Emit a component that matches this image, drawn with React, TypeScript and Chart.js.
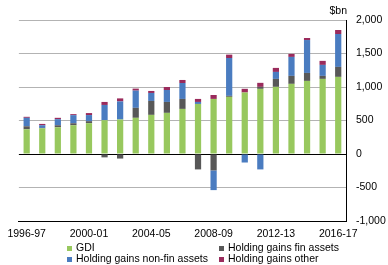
import React, { useEffect, useRef } from 'react';
import { Chart, registerables } from 'chart.js';

Chart.register(...registerables);

const categories = [
  '1996-97', '1997-98', '1998-99', '1999-00', '2000-01', '2001-02', '2002-03',
  '2003-04', '2004-05', '2005-06', '2006-07', '2007-08', '2008-09', '2009-10',
  '2010-11', '2011-12', '2012-13', '2013-14', '2014-15', '2015-16', '2016-17',
];

const gdi = [369, 384, 399, 429, 460, 505, 515, 540, 584, 614, 673, 747, 822, 853, 918, 972, 1002, 1047, 1091, 1121, 1151];
const finGains = [45, 5, 30, 30, 30, -50, -68, 149, 208, 163, 149, -230, -245, 15, 0, 30, 119, 119, 119, 45, 149];
const nonFinGains = [126, 40, 91, 121, 91, 227, 270, 257, 119, 178, 238, 30, -294, 565, -127, -230, 104, 283, 491, 164, 491];
const otherGains = [15, 20, 20, 15, 30, 45, 45, 30, 30, 45, 45, 45, 59, 50, 55, 60, 60, 45, 30, 60, 60];

const seriesNames = ['GDI', 'Holding gains fin assets', 'Holding gains non-fin assets', 'Holding gains other'];
const seriesColors = ['#98C85E', '#585858', '#4A7CC0', '#9A2B5C'];

const FONT_FAMILY = '"Liberation Sans", Arial, sans-serif';
const FONT_SIZE = 10.5;

const unitPlugin = {
  id: 'unitLabel',
  afterDraw(chart: any) {
    const { ctx, chartArea } = chart;
    ctx.save();
    ctx.font = `${FONT_SIZE}px ${FONT_FAMILY}`;
    ctx.fillStyle = '#000';
    ctx.textAlign = 'right';
    ctx.textBaseline = 'middle';
    ctx.fillText('$bn', chartArea.right + 1, 11);
    ctx.restore();
  },
};

export default function App() {
  const ref = useRef<HTMLCanvasElement>(null);

  useEffect(() => {
    document.body.style.margin = '0';
    const font = { family: FONT_FAMILY, size: FONT_SIZE };
    const values = [gdi, finGains, nonFinGains, otherGains];
    const chart = new Chart(ref.current!, {
      type: 'bar',
      data: {
        labels: categories,
        datasets: values.map((d, i) => ({
          label: seriesNames[i],
          data: d,
          backgroundColor: seriesColors[i],
          borderWidth: 0,
          barPercentage: 0.4,
          categoryPercentage: 1,
        })),
      },
      options: {
        animation: false,
        responsive: false,
        maintainAspectRatio: false,
        layout: { padding: { left: 17, right: 0, top: 20, bottom: 0 } },
        plugins: { legend: { display: false }, tooltip: { enabled: false } },
        scales: {
          x: {
            stacked: true,
            grid: { display: false, drawTicks: false },
            border: { display: true, color: '#000', width: 1 },
            ticks: {
              autoSkip: false,
              maxRotation: 0,
              minRotation: 0,
              padding: 7,
              color: '#000',
              font,
              callback: (_v: any, i: number) => (i % 4 === 0 ? categories[i] : ''),
            },
            afterFit: (s: any) => { s.height = 44; },
          },
          y: {
            position: 'right',
            stacked: true,
            min: -1000,
            max: 2000,
            ticks: {
              stepSize: 500,
              padding: 10,
              color: '#000',
              font,
              callback: (v: any) => Number(v).toLocaleString('en-US'),
            },
            grid: {
              drawTicks: false,
              color: (ctx: any) => (ctx.tick && (ctx.tick.value === 0 || ctx.tick.value === -1000) ? '#000' : '#b3b3b3'),
            },
            border: { display: true, color: '#000', width: 1 },
            afterFit: (s: any) => { s.width = 42; },
          },
        },
      },
      plugins: [unitPlugin],
    });
    return () => chart.destroy();
  }, []);

  const legendItem = (i: number, left: number, top: number) => (
    <div
      key={i}
      style={{
        position: 'absolute', left, top, height: 12, display: 'flex', alignItems: 'center',
        fontFamily: FONT_FAMILY, fontSize: FONT_SIZE, lineHeight: '12px', color: '#000', whiteSpace: 'nowrap',
      }}
    >
      <span style={{ display: 'inline-block', width: 5, height: 5, background: seriesColors[i], marginRight: 4, position: 'relative', top: 1 }} />
      <span>{seriesNames[i]}</span>
    </div>
  );

  return (
    <div style={{ position: 'absolute', left: 0, top: 0, width: 388, height: 265, background: '#fff' }}>
      <canvas ref={ref} width={388} height={265} style={{ position: 'absolute', left: 0, top: 0, width: 388, height: 265 }} />
      {legendItem(0, 67, 241)}
      {legendItem(1, 219, 241)}
      {legendItem(2, 67, 252)}
      {legendItem(3, 219, 252)}
    </div>
  );
}
